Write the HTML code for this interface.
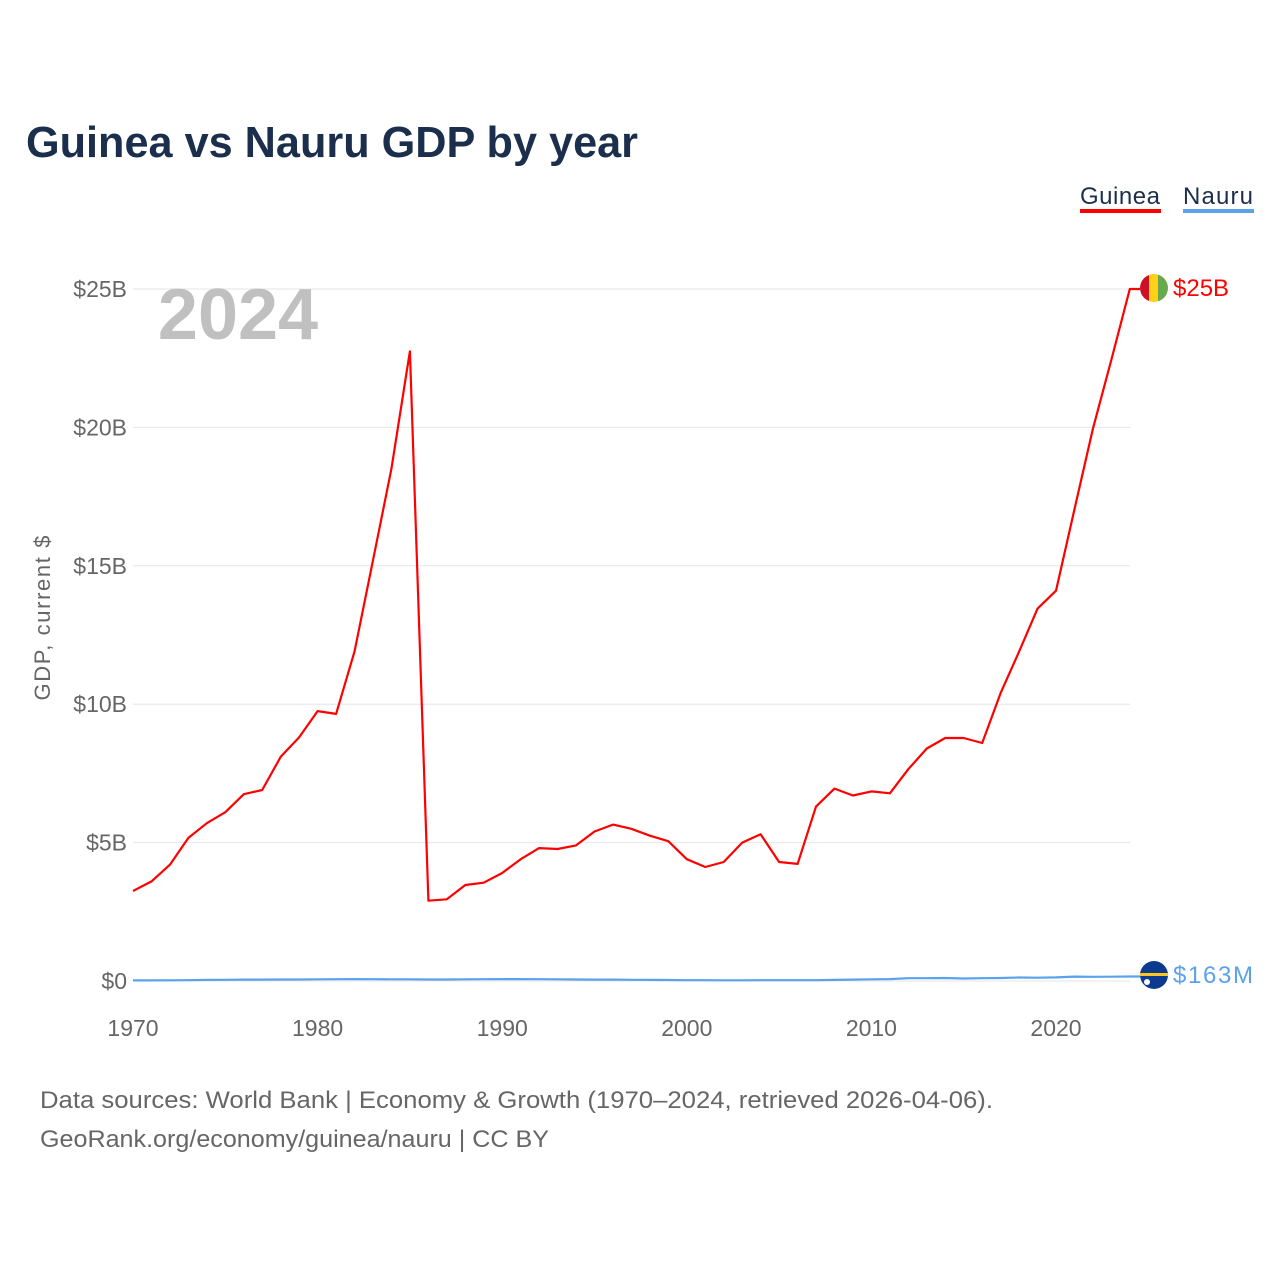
<!DOCTYPE html>
<html><head><meta charset="utf-8"><style>
body{margin:0;background:#fff;}
svg text{font-family:"Liberation Sans",sans-serif;}
</style></head><body>
<svg width="1280" height="1280" viewBox="0 0 1280 1280" xmlns="http://www.w3.org/2000/svg">
<text x="26" y="157" font-size="44" font-weight="bold" fill="#1b2f4d" textLength="612" lengthAdjust="spacingAndGlyphs">Guinea vs Nauru GDP by year</text>
<g><text x="1080" y="204" font-size="24" fill="#1b2f4d" textLength="80">Guinea</text><rect x="1080" y="209" width="81" height="4" fill="#ff0000"/></g>
<g><text x="1183" y="204" font-size="24" fill="#1b2f4d" textLength="70">Nauru</text><rect x="1183" y="209" width="71" height="4" fill="#5ba2ec"/></g>
<g id="grid"></g>
<g id="yticks"></g>
<g id="xticks"></g>
<text x="238" y="339" font-size="72" font-weight="bold" fill="#c0c0c0" text-anchor="middle">2024</text>
<text transform="translate(50,618) rotate(-90)" font-size="22" fill="#666" text-anchor="middle" textLength="165">GDP, current $</text>
<g id="series"></g>
<g>
<clipPath id="c1"><circle cx="1154" cy="288" r="14"/></clipPath>
<g clip-path="url(#c1)"><rect x="1140" y="274" width="10" height="28" fill="#ce1126"/><rect x="1149" y="274" width="10" height="28" fill="#fcd116"/><rect x="1158" y="274" width="10" height="28" fill="#6aa84f"/></g></g>
<text x="1173" y="296" font-size="24" fill="#ff0000">$25B</text>
<g>
<clipPath id="c2"><circle cx="1154" cy="975" r="14"/></clipPath>
<g clip-path="url(#c2)"><rect x="1140" y="961" width="28" height="28" fill="#0b3a8f"/><rect x="1140" y="973" width="28" height="3" fill="#ffc61e"/><circle cx="1147" cy="982" r="3" fill="#fff"/></g></g>
<text x="1173" y="983" font-size="24" fill="#5ba2ec" textLength="80">$163M</text>
<text x="40" y="1108" font-size="24" fill="#666" textLength="953" lengthAdjust="spacingAndGlyphs">Data sources: World Bank | Economy &amp; Growth (1970–2024, retrieved 2026-04-06).</text>
<text x="40" y="1147" font-size="24" fill="#666" textLength="509" lengthAdjust="spacingAndGlyphs">GeoRank.org/economy/guinea/nauru | CC BY</text>
</svg>
<script>
const years=[];for(let y=1970;y<=2024;y++)years.push(y);
const guinea=[3.25,3.6,4.2,5.17,5.7,6.1,6.75,6.9,8.1,8.8,9.75,9.65,11.9,15.2,18.5,22.75,2.9,2.95,3.47,3.55,3.9,4.4,4.8,4.77,4.9,5.4,5.65,5.5,5.25,5.05,4.4,4.12,4.3,5.0,5.3,4.3,4.23,6.3,6.95,6.7,6.85,6.78,7.65,8.4,8.78,8.78,8.6,10.4,11.9,13.45,14.1,17.05,19.95,22.45,25.0];
const nauru=[0.02,0.02,0.025,0.03,0.04,0.045,0.05,0.05,0.055,0.055,0.06,0.065,0.07,0.065,0.06,0.06,0.055,0.055,0.06,0.065,0.07,0.07,0.065,0.06,0.055,0.05,0.05,0.045,0.04,0.035,0.03,0.028,0.025,0.025,0.03,0.03,0.03,0.03,0.04,0.05,0.06,0.07,0.1,0.1,0.11,0.09,0.1,0.11,0.125,0.12,0.13,0.16,0.15,0.155,0.163];
const yTicks=[0,5,10,15,20,25];
const yTickLabels=["$0","$5B","$10B","$15B","$20B","$25B"];
const xTicks=[1970,1980,1990,2000,2010,2020];
const X=y=>133+(y-1970)*(923/50);
const Y=v=>981-v*27.68;
const NS="http://www.w3.org/2000/svg";
function mk(tag,attrs,parent){const e=document.createElementNS(NS,tag);for(const k in attrs)e.setAttribute(k,attrs[k]);parent.appendChild(e);return e;}
const grid=document.getElementById('grid'),yt=document.getElementById('yticks'),xt=document.getElementById('xticks'),ser=document.getElementById('series');
yTicks.forEach((v,i)=>{
 const l=mk('line',{x1:133,x2:1130,y1:Y(v),y2:Y(v),stroke:'#e6e6e6','stroke-width':1},grid);
 
 
 const t=mk('text',{x:127,y:Y(v)+8,'font-size':23,fill:'#666','text-anchor':'end'},yt);
 t.textContent=yTickLabels[i];
 
 
});
xTicks.forEach(y=>{
 const t=mk('text',{x:X(y),y:1036,'font-size':23,fill:'#666','text-anchor':'middle'},xt);
 t.textContent=y;
 
 
});
function line(vals,color,name){
 let d=vals.map((v,i)=>(i?'L':'M')+X(years[i]).toFixed(1)+','+Y(v).toFixed(1)).join(' ');
 d+=' L1140,'+Y(vals[vals.length-1]).toFixed(1);
 const p=mk('path',{d:d,fill:'none',stroke:color,'stroke-width':2.2,'stroke-linejoin':'round'},ser);
 
 
}
line(nauru,'#5ba2ec','nauru-line');
line(guinea,'#ff0000','guinea-line');
</script>
</body></html>
